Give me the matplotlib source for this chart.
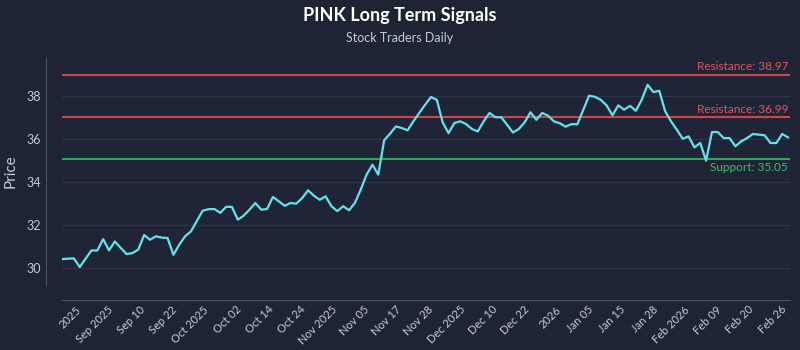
import numpy as np
import matplotlib
matplotlib.use("Agg")
import matplotlib.pyplot as plt

plt.rcParams['font.family'] = ['Lato', 'DejaVu Sans']

# closing prices, one per trading session
prices = [
    30.40, 30.42, 30.43, 30.03, 30.42, 30.80, 30.80, 31.33, 30.80, 31.22,
    30.92, 30.63, 30.68, 30.84, 31.52, 31.30, 31.46, 31.40, 31.38, 30.60,
    31.07, 31.46, 31.69, 32.17, 32.65, 32.72, 32.73, 32.55, 32.83, 32.83,
    32.23, 32.42, 32.70, 33.01, 32.70, 32.73, 33.29, 33.09, 32.88, 33.01,
    32.98, 33.24, 33.60, 33.35, 33.16, 33.32, 32.86, 32.63, 32.86, 32.67,
    33.01, 33.63, 34.33, 34.79, 34.33, 35.93, 36.23, 36.57, 36.50, 36.39,
    36.81, 37.20, 37.58, 37.94, 37.81, 36.76, 36.26, 36.73, 36.81, 36.68,
    36.45, 36.34, 36.81, 37.20, 37.00, 37.00, 36.65, 36.29, 36.45, 36.76,
    37.23, 36.88, 37.20, 37.07, 36.81, 36.72, 36.56, 36.68, 36.67, 37.33,
    38.00, 37.95, 37.81, 37.55, 37.09, 37.55, 37.35, 37.53, 37.30, 37.81,
    38.51, 38.17, 38.23, 37.28, 36.81, 36.42, 36.00, 36.11, 35.60, 35.80,
    34.98, 36.31, 36.31, 36.03, 36.03, 35.65, 35.88, 36.03, 36.22, 36.19,
    36.16, 35.80, 35.80, 36.22, 36.06,
]

tick_labels = [
    '2025', 'Sep 2025', 'Sep 10', 'Sep 22', 'Oct 2025', 'Oct 02', 'Oct 14',
    'Oct 24', 'Nov 2025', 'Nov 05', 'Nov 17', 'Nov 28', 'Dec 2025', 'Dec 10',
    'Dec 22', '2026', 'Jan 05', 'Jan 15', 'Jan 28', 'Feb 2026', 'Feb 09',
    'Feb 20', 'Feb 26',
]

resistance_levels = [38.97, 36.99]
support_level = 35.05

bg = '#1e2433'
fig = plt.figure(figsize=(8, 3.5), dpi=100, facecolor=bg)
ax = fig.add_axes([0.077, 0.183, 0.911, 0.654])
ax.set_facecolor('#1f2536')

# spines first: moving them resets the tick objects
for side in ['top', 'right']:
    ax.spines[side].set_visible(False)
ax.spines['left'].set_position(('outward', 11))
ax.spines['bottom'].set_position(('outward', 10))
for side in ['left', 'bottom']:
    ax.spines[side].set_color('#4b5366')

x = np.arange(len(prices))
ax.plot(x, prices, color='#62e3ec', linewidth=1.6, zorder=3)

for lvl in resistance_levels:
    ax.axhline(lvl, color='#c8474f', linewidth=1.5, zorder=2)
    ax.text(0.997, lvl + 0.12, f'Resistance: {lvl:.2f}', transform=ax.get_yaxis_transform(),
            ha='right', va='bottom', color='#e0565c', fontsize=8.5)
ax.axhline(support_level, color='#2fa55c', linewidth=1.5, zorder=2)
ax.text(0.997, support_level - 0.15, f'Support: {support_level:.2f}', transform=ax.get_yaxis_transform(),
        ha='right', va='top', color='#3cbf6a', fontsize=8.5)

ax.set_xlim(-0.1, len(prices) - 0.6)
ax.set_ylim(29.15, 39.8)
ax.set_yticks([30, 32, 34, 36, 38])
ax.yaxis.grid(True, color='#2d3547', linewidth=0.8)
ax.set_axisbelow(True)

ax.set_xticks(np.linspace(3.5, 124.0, len(tick_labels)))
ax.set_xticklabels(tick_labels)
ax.tick_params(colors='#c5cad3', labelsize=9, length=0, pad=4)
ax.tick_params(axis='x', labelrotation=45, labelsize=8, pad=3)
plt.setp(ax.get_xticklabels(), ha='right')

ax.set_ylabel('Price', color='#c5cad3', fontsize=11, labelpad=6)

fig.text(0.5, 0.955, 'PINK Long Term Signals', ha='center', va='center',
         color='white', fontsize=13, fontweight='bold')
fig.text(0.5, 0.89, 'Stock Traders Daily', ha='center', va='center',
         color='#c5cad3', fontsize=9)

fig.savefig('out.png', dpi=100, facecolor=bg)
